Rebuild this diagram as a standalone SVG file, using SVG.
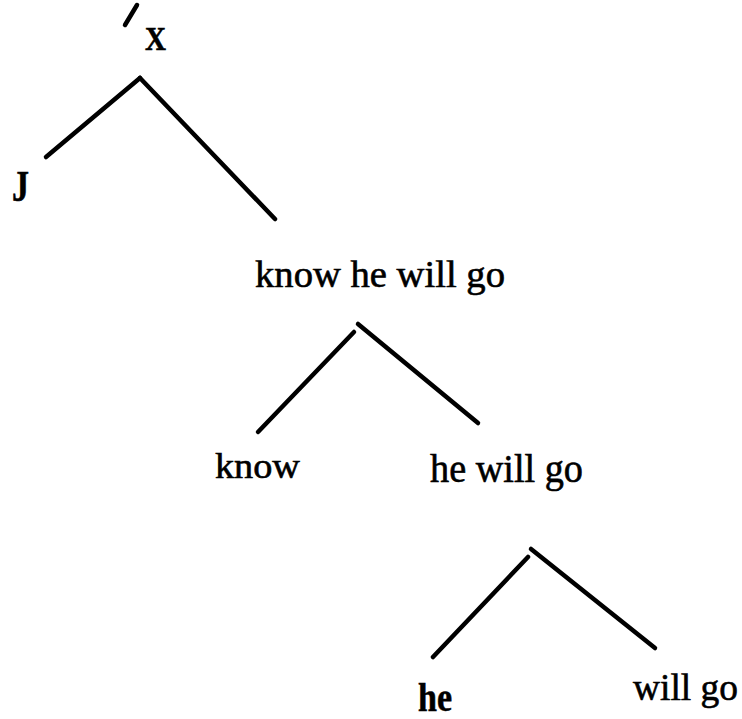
<svg xmlns="http://www.w3.org/2000/svg" width="742" height="719" viewBox="0 0 742 719">
<style>
.t{font-family:"Liberation Serif","Times New Roman",serif;fill:#000;stroke:#000;stroke-width:0.6}
.e{stroke:#000;stroke-width:4.5;stroke-linecap:round;fill:none}
</style>
<rect width="742" height="719" fill="#fff"/>
<g id="root">
<line class="e" x1="125" y1="25" x2="137" y2="5"/>
<text class="t" x="145" y="50" font-size="33" font-weight="bold" textLength="21" lengthAdjust="spacingAndGlyphs">X</text>
</g>
<g id="J"><text class="t" x="12" y="201" font-size="44" font-weight="bold" textLength="17" lengthAdjust="spacingAndGlyphs">J</text></g>
<g id="know-he-will-go"><text class="t" x="255" y="287" font-size="37" textLength="250" lengthAdjust="spacingAndGlyphs">know he will go</text></g>
<g id="know"><text class="t" x="215" y="478" font-size="35" textLength="85" lengthAdjust="spacingAndGlyphs">know</text></g>
<g id="he-will-go"><text class="t" x="430" y="482" font-size="39" textLength="153" lengthAdjust="spacingAndGlyphs">he will go</text></g>
<g id="he"><text class="t" x="418" y="711" font-size="40" font-weight="bold" textLength="34" lengthAdjust="spacingAndGlyphs">he</text></g>
<g id="will-go"><text class="t" x="633" y="700" font-size="37" textLength="105" lengthAdjust="spacingAndGlyphs">will go</text></g>
<g id="connectors">
<line class="e" x1="140" y1="78" x2="46" y2="157"/>
<line class="e" x1="140" y1="78" x2="275" y2="219"/>
<line class="e" x1="354" y1="332" x2="258" y2="432"/>
<line class="e" x1="358" y1="324" x2="478" y2="423"/>
<line class="e" x1="528" y1="557" x2="433" y2="657"/>
<line class="e" x1="531" y1="549" x2="655" y2="648"/>
</g>
</svg>
